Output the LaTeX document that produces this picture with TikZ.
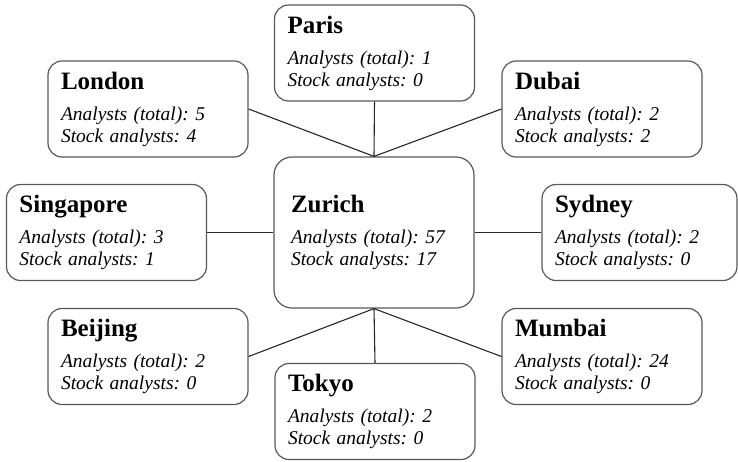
\documentclass[tikz,border=0pt]{standalone}
\usepackage{fontspec}
\setmainfont{Liberation Serif}
\frenchspacing
\definecolor{boxgray}{RGB}{88,88,88}
\newcommand{\officetext}[3]{{\fontsize{25}{28}\selectfont\bfseries #1}\\[9pt]\textit{Analysts (total): #2}\\\textit{Stock analysts: #3}}

\begin{document}
\begin{tikzpicture}[x=1pt,y=-1pt,
  office/.style={draw=boxgray, line width=1.2pt, rounded corners=14pt, fill=white,
    minimum height=96pt, inner xsep=13pt, text width=174pt, align=left,
    font=\fontsize{19.5}{22}\selectfont},
  hub/.style={office, minimum height=151pt, inner xsep=17pt, text width=166pt, rounded corners=18pt},
  link/.style={draw=black!85, line width=1.1pt}]
\useasboundingbox (0,0) rectangle (738,461);
\node [hub] (zurich) at (374,232.5) {\officetext{Zurich}{57}{17}};
\node [office] (paris) at (374.5,53) {\officetext{Paris}{1}{0}};
\node [office] (london) at (148,109) {\officetext{London}{5}{4}};
\node [office] (dubai) at (602,109) {\officetext{Dubai}{2}{2}};
\node [office] (singapore) at (106.5,232.5) {\officetext{Singapore}{3}{1}};
\node [office, text width=169pt] (sydney) at (639.5,232.5) {\officetext{Sydney}{2}{0}};
\node [office] (beijing) at (148,356.5) {\officetext{Beijing}{2}{0}};
\node [office] (tokyo) at (375,411.5) {\officetext{Tokyo}{2}{0}};
\node [office] (mumbai) at (602,356.5) {\officetext{Mumbai}{24}{0}};
\draw [link] (london.east) -- (zurich.north);
\draw [link] (paris.south) -- (zurich.north);
\draw [link] (dubai.west) -- (zurich.north);
\draw [link] (singapore.east) -- (zurich.west);
\draw [link] (zurich.east) -- (sydney.west);
\draw [link] (beijing.east) -- (zurich.south);
\draw [link] (tokyo.north) -- (zurich.south);
\draw [link] (mumbai.west) -- (zurich.south);
\end{tikzpicture}
\end{document}
